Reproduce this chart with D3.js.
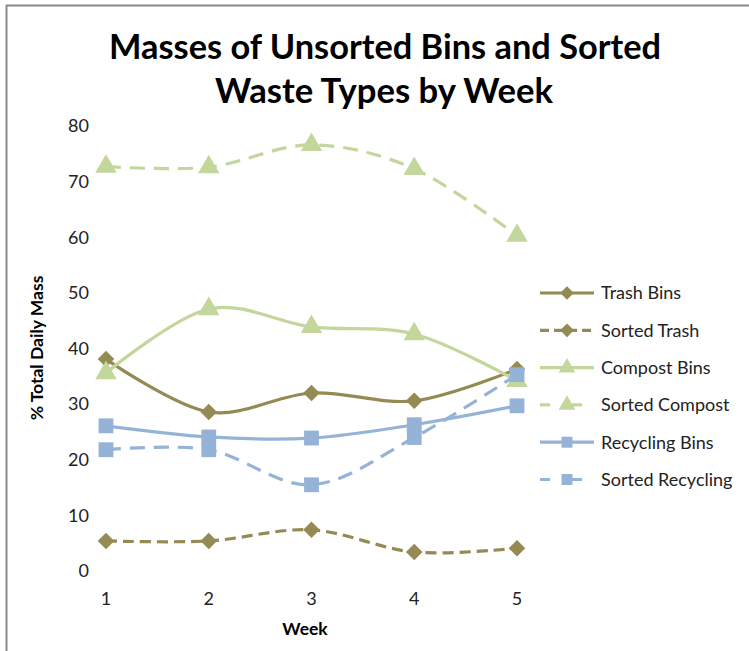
<!DOCTYPE html>
<html>
<head>
<meta charset="utf-8">
<script src="https://cdn.jsdelivr.net/npm/d3@7"></script>
<style>
  body { margin: 0; background: #fff; }
  text { font-family: Lato, "Open Sans", sans-serif; }
</style>
</head>
<body>
<div id="chart"></div>
<script>
var weeks = [1, 2, 3, 4, 5];
var yTicks = [0, 10, 20, 30, 40, 50, 60, 70, 80];

var trashBins = [38.1, 28.6, 32.0, 30.6, 36.3];
var sortedTrash = [5.4, 5.4, 7.4, 3.4, 4.1];
var compostBins = [35.6, 47.1, 43.9, 42.6, 34.2];
var sortedCompost = [72.7, 72.6, 76.6, 72.3, 60.3];
var recyclingBins = [26.1, 24.1, 23.9, 26.3, 29.7];
var sortedRecycling = [21.8, 21.8, 15.5, 24.0, 35.3];

var seriesNames = ["Trash Bins", "Sorted Trash", "Compost Bins", "Sorted Compost", "Recycling Bins", "Sorted Recycling"];
var seriesValues = [trashBins, sortedTrash, compostBins, sortedCompost, recyclingBins, sortedRecycling];

var olive = "#948A54", green = "#C3D69B", blue = "#95B3D7";
var styles = [
  {color: olive, dash: null, marker: d3.symbolDiamond2, size: 175},
  {color: olive, dash: "11,6", marker: d3.symbolDiamond2, size: 175},
  {color: green, dash: null, marker: d3.symbolTriangle, size: 200},
  {color: green, dash: "15,9", marker: d3.symbolTriangle, size: 200},
  {color: blue, dash: null, marker: d3.symbolSquare, size: 220},
  {color: blue, dash: "15,9", marker: d3.symbolSquare, size: 220}
];

var W = 749, H = 651;
var svg = d3.select("#chart").append("svg")
  .attr("width", W).attr("height", H);

// chart frame (only top and left edges visible)
svg.append("path")
  .attr("d", "M6.5,651 V5.5 H749")
  .attr("fill", "none")
  .attr("stroke", "#898989")
  .attr("stroke-width", 2);

// title
var title = svg.append("text")
  .attr("text-anchor", "middle")
  .attr("font-weight", "bold")
  .attr("font-size", 34)
  .attr("fill", "#000");
title.append("tspan").attr("x", 385).attr("y", 59).text("Masses of Unsorted Bins and Sorted")
  .attr("textLength", 552).attr("lengthAdjust", "spacingAndGlyphs");
title.append("tspan").attr("x", 384).attr("y", 103).text("Waste Types by Week")
  .attr("textLength", 338).attr("lengthAdjust", "spacingAndGlyphs");

var x = d3.scaleLinear().domain([1, 5]).range([106, 517]);
var y = d3.scaleLinear().domain([0, 80]).range([571, 126]);

// y tick labels
svg.append("g").selectAll("text")
  .data(yTicks).join("text")
  .attr("x", 89).attr("y", function(d) { return y(d); })
  .attr("dy", "0.35em")
  .attr("text-anchor", "end")
  .attr("font-size", 18)
  .attr("fill", "#222")
  .text(function(d) { return d; });

// x tick labels
svg.append("g").selectAll("text")
  .data(weeks).join("text")
  .attr("x", function(d) { return x(d); })
  .attr("y", 605)
  .attr("text-anchor", "middle")
  .attr("font-size", 18)
  .attr("fill", "#222")
  .text(function(d) { return d; });

// axis titles
svg.append("text")
  .attr("x", 305).attr("y", 635)
  .attr("text-anchor", "middle")
  .attr("font-weight", "bold")
  .attr("font-size", 17.5)
  .text("Week");
svg.append("text")
  .attr("transform", "translate(43,348) rotate(-90)")
  .attr("text-anchor", "middle")
  .attr("font-weight", "bold")
  .attr("font-size", 17.5)
  .text("% Total Daily Mass");

var line = d3.line()
  .x(function(d, i) { return x(weeks[i]); })
  .y(function(d) { return y(d); })
  .curve(d3.curveCatmullRom.alpha(0));

seriesValues.forEach(function(vals, k) {
  var s = styles[k];
  svg.append("path")
    .datum(vals)
    .attr("fill", "none")
    .attr("stroke", s.color)
    .attr("stroke-width", 3.2)
    .attr("stroke-dasharray", s.dash)
    .attr("d", line);
  svg.append("g").selectAll("path")
    .data(vals).join("path")
    .attr("transform", function(d, i) { return "translate(" + x(weeks[i]) + "," + y(d) + ")"; })
    .attr("d", d3.symbol().type(s.marker).size(s.size))
    .attr("fill", s.color);
});

// legend
var legend = svg.append("g");
seriesNames.forEach(function(name, k) {
  var s = styles[k];
  var ly = 293 + k * 37.3;
  var g = legend.append("g").attr("transform", "translate(0," + ly + ")");
  g.append("line")
    .attr("x1", 540).attr("x2", 594)
    .attr("stroke", s.color)
    .attr("stroke-width", 3.2)
    .attr("stroke-dasharray", s.dash ? (k === 1 ? "9,5" : "10,22") : null);
  g.append("path")
    .attr("transform", "translate(567,0)")
    .attr("d", d3.symbol().type(s.marker).size(120))
    .attr("fill", s.color);
  g.append("text")
    .attr("x", 601).attr("dy", "0.35em")
    .attr("font-size", 18)
    .attr("fill", "#222")
    .text(name);
});
</script>
</body>
</html>
